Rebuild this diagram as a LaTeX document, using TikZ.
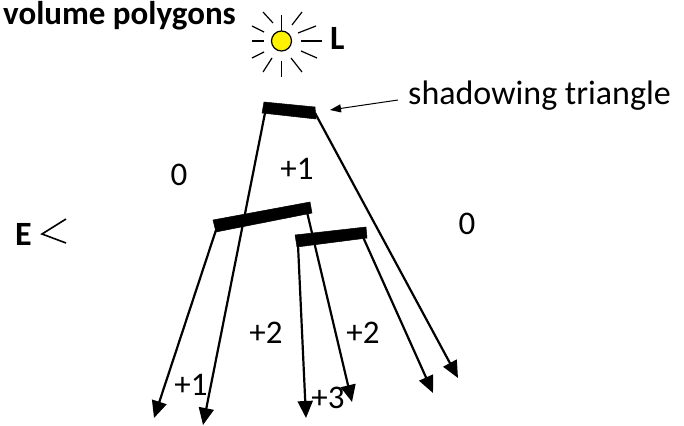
\documentclass[tikz,border=0pt]{standalone}
\usepackage{fontspec}
\setmainfont{Carlito}
\usetikzlibrary{arrows.meta,positioning}

\begin{document}
\begin{tikzpicture}[
  x=1pt, y=-1pt,
  >={Triangle[length=17pt,width=15pt]},
  ray/.style={line width=1.2pt},
  shadowray/.style={->, line width=2.2pt},
  bar/.style={fill=black, draw=black, line width=0.5pt},
  label/.style={font=\fontsize{33}{36}\selectfont, inner sep=0pt},
  boldlabel/.style={font=\fontsize{34}{36}\selectfont\bfseries, inner sep=0pt},
]
  \useasboundingbox (0,0) rectangle (684,425);
  % Light source
  \node[circle, draw, fill=yellow, minimum size=20pt, inner sep=0pt, line width=1.2pt] (sun) at (281.5,41) {};
  \foreach \xa/\ya/\xb/\yb in {281.5/15/281.5/31, 263/12/273/23, 302/12/292/25, 252/26/264/32,
      316/26/298/33, 252/41/264/41, 301/41/322/41, 252/58/264/52, 301/51/317/58,
      263/72/272/58, 281.5/61/281.5/77, 291/58/302/72}
    \draw[ray] (\xa,\ya) -- (\xb,\yb);
  % Ends of the rays along the three triangles
  \foreach \name/\x/\y in {Aleft/265/113, Aright/315/113, Bleft/216/230, Bright/307/212,
      Cleft/298/245, Cright/363/237}
    \coordinate (\name) at (\x,\y);
  \foreach \name/\x/\y in {Aleftend/203/425, Arightend/458/378, Bleftend/154/418, Brightend/352/402,
      Cleftend/306/418, Crightend/433/393}
    \coordinate (\name) at (\x,\y);
  % Shadow volume edges
  \foreach \name in {Aleft,Aright,Bleft,Bright,Cleft,Cright}
    \draw[shadowray] (\name) -- (\name end);
  % Triangles seen edge-on
  \draw[bar] (264,102) -- (315,107) -- (316,119) -- (262,113) -- cycle;
  \draw[bar] (213,220) -- (310,202) -- (312,213) -- (216,232) -- cycle;
  \draw[bar] (295,235) -- (366,227) -- (367,238) -- (297,247) -- cycle;
  % Eye
  \coordinate (eyetip) at (42,234);
  \coordinate (eyetop) at (66,219);
  \coordinate (eyebot) at (66,243);
  \draw[line width=1.6pt] (eyetop) -- (eyetip) -- (eyebot);
  % Texts
  \node[boldlabel, font=\fontsize{33}{36}\selectfont\bfseries, anchor=base east] (title) at (236,25) {volume polygons};
  \node[boldlabel, anchor=base west] (lightname) at (330,50) {L};
  \node[boldlabel, anchor=base west] (eyename) at (15,245) {E};
  \node[label, font=\fontsize{34}{36}\selectfont, anchor=base west] (shadowname) at (408,105) {shadowing triangle};
  \coordinate (shadowtail) at (398,100);
  \coordinate (shadowtip) at (330,110);
  \draw[-{Triangle[length=11pt,width=8pt]}, line width=1pt] (shadowtail) -- (shadowtip);
  % Counts
  \node[label] (zeroleft) at (179,175) {0};
  \node[label] (oneup) at (297,169) {+1};
  \node[label] (zeroright) at (467,224) {0};
  \node[label] (twoleft) at (266,333) {+2};
  \node[label] (tworight) at (363,333) {+2};
  \node[label] (onedown) at (191,385) {+1};
  \node[label] (three) at (328,398) {+3};
\end{tikzpicture}
\end{document}
